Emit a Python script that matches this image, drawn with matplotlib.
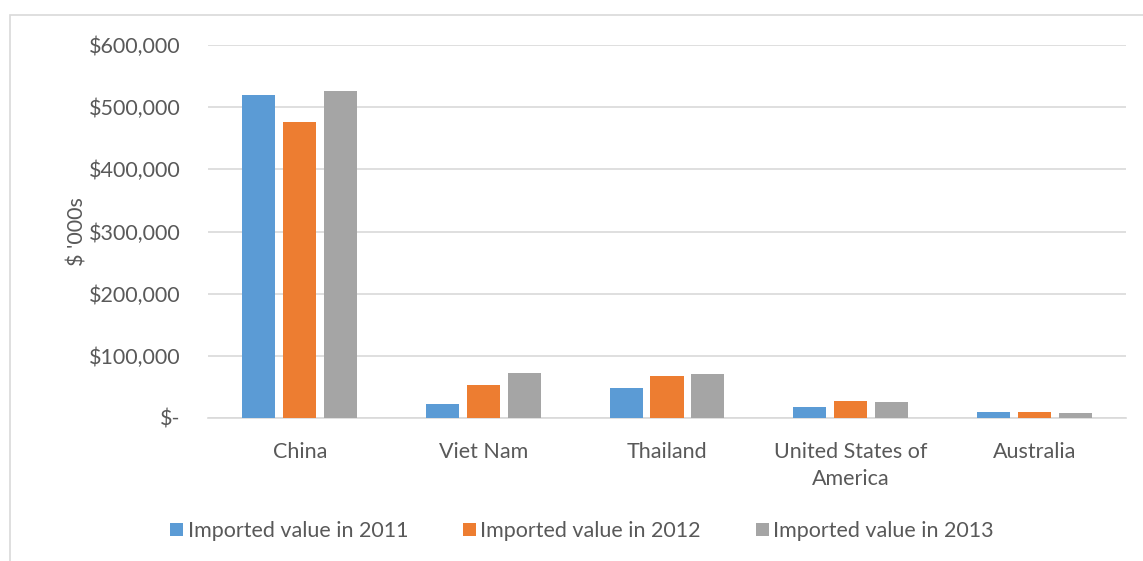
import numpy as np
from matplotlib import pyplot as plt
from matplotlib.patches import Rectangle
from matplotlib.ticker import FuncFormatter, MultipleLocator

countries = ["China", "Viet Nam", "Thailand", "United States of\nAmerica", "Australia"]
years = ["Imported value in 2011", "Imported value in 2012", "Imported value in 2013"]
valores_2011 = [520000, 22000, 47800, 17200, 9200]
valores_2012 = [475600, 53000, 68000, 26900, 9200]
valores_2013 = [525500, 72400, 70800, 25300, 8500]
colores = ["#5B9BD5", "#ED7D31", "#A5A5A5"]

plt.rcParams['font.family'] = ['Lato', 'DejaVu Sans']
texto = "#595959"
fs = 15.5

fig = plt.figure(figsize=(11.43, 5.61), dpi=100)
ax = fig.add_axes([208 / 1143, 1 - 418 / 561, 918 / 1143, 373 / 561])

# chart area border
fig.patches.append(Rectangle((10 / 1143, -0.2), 1.2, 1.2 - 15 / 561, transform=fig.transFigure,
                             fill=False, edgecolor="#d9d9d9", linewidth=1.2))

x = np.arange(len(countries))
ancho = 0.18
paso = 0.223
for i, serie in enumerate([valores_2011, valores_2012, valores_2013]):
    ax.bar(x + (i - 1) * paso, serie, width=ancho, color=colores[i], label=years[i], zorder=3)

ax.set_xlim(-0.5, len(countries) - 0.5)
ax.set_ylim(0, 600000)
ax.yaxis.set_major_locator(MultipleLocator(100000))
ax.yaxis.set_major_formatter(FuncFormatter(lambda v, p: "$-" if v == 0 else "${:,.0f}".format(v)))
ax.grid(axis="y", color="#d9d9d9", linewidth=1.2, zorder=0)
ax.set_xticks(x)
ax.set_xticklabels(countries, fontsize=fs, color=texto, linespacing=1.45)
ax.tick_params(axis="y", labelsize=fs, labelcolor=texto, length=0, pad=20)
ax.tick_params(axis="x", length=0, pad=17)
for lado in ["top", "right", "left"]:
    ax.spines[lado].set_visible(False)
ax.spines["bottom"].set_color("#d9d9d9")
ax.spines["bottom"].set_linewidth(1.2)
ax.set_ylabel("$ '000s", fontsize=fs, color=texto)
ax.yaxis.set_label_coords((88 - 208) / 918, 0.5)

ax.legend(loc="center", bbox_to_anchor=(582 / 1143, 1 - 531 / 561), bbox_transform=fig.transFigure,
          ncol=3, frameon=False, fontsize=fs, labelcolor=texto, handlelength=0.6, handleheight=0.6,
          handletextpad=0.2, columnspacing=2.55)

plt.savefig("out.png", dpi=100)
